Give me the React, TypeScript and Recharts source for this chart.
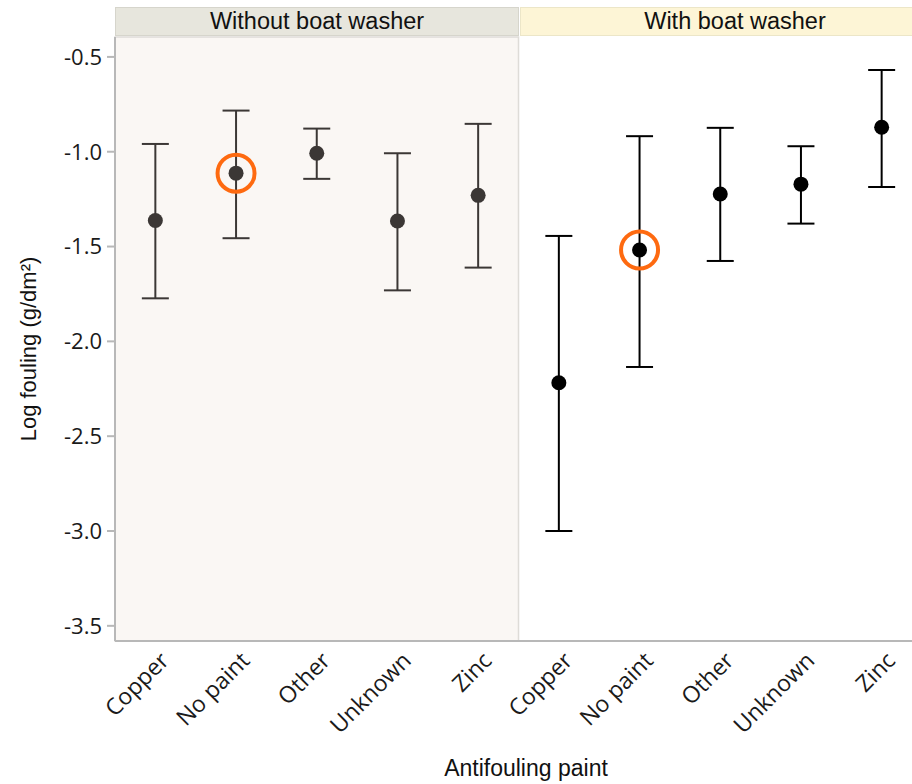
import React from "react"
import { ComposedChart, Scatter, ErrorBar, XAxis, YAxis, ReferenceArea } from "recharts"

// categories and panels
const paints = ["Copper", "No paint", "Other", "Unknown", "Zinc"]
const panels = ["Without boat washer", "With boat washer"]
const highlighted = "No paint"

// log fouling: mean and interval bounds
const withoutMean = [-1.363, -1.113, -1.008, -1.365, -1.23]
const withoutUpper = [-0.959, -0.783, -0.878, -1.008, -0.853]
const withoutLower = [-1.773, -1.456, -1.143, -1.731, -1.611]

const withMean = [-2.218, -1.518, -1.223, -1.171, -0.871]
const withUpper = [-1.444, -0.918, -0.874, -0.971, -0.569]
const withLower = [-3.0, -2.135, -1.576, -1.379, -1.186]

const yTicks = [-0.5, -1.0, -1.5, -2.0, -2.5, -3.0, -3.5]

const makeRows = (panel: string, mean: number[], upper: number[], lower: number[]) =>
  paints.map((paint, i) => ({
    key: `${panel}|${paint}`,
    paint,
    mean: mean[i],
    err: [mean[i] - lower[i], upper[i] - mean[i]],
  }))

const withoutRows = makeRows(panels[0], withoutMean, withoutUpper, withoutLower)
const withRows = makeRows(panels[1], withMean, withUpper, withLower)
const axisRows = [...withoutRows, ...withRows].map((r) => ({ key: r.key }))

const tickFont = "'Open Sans', 'Noto Sans', sans-serif"
const titleFont = "'Liberation Sans', Arial, sans-serif"

const XTick = (props: any) => {
  const { x, y, payload } = props
  const label = String(payload.value).split("|")[1]
  const tx = x + 15
  const ty = y + 21
  return (
    <text
      x={tx}
      y={ty}
      transform={`rotate(-45 ${tx} ${ty})`}
      textAnchor="end"
      fontSize={23}
      fontFamily={tickFont}
      fill="#1a1a1a"
    >
      {label}
    </text>
  )
}

const makeDot = (color: string) => (props: any) => {
  const { cx, cy, payload } = props
  return (
    <g>
      <circle cx={cx} cy={cy} r={7.5} fill={color} />
      {payload.paint === highlighted && (
        <circle cx={cx} cy={cy} r={18.5} fill="none" stroke="#fe6a10" strokeWidth={4} />
      )}
    </g>
  )
}

const header = (left: number, width: number, bg: string, border: string, text: string) => (
  <div
    style={{
      position: "absolute",
      left,
      top: 7,
      width,
      height: 29,
      background: bg,
      border: `1px solid ${border}`,
      boxSizing: "border-box",
      display: "flex",
      alignItems: "center",
      justifyContent: "center",
      fontFamily: titleFont,
      fontSize: 23.5,
      color: "#111",
    }}
  >
    {text}
  </div>
)

export default function App() {
  return (
    <div style={{ position: "absolute", left: 0, top: 0, width: 912, height: 784, overflow: "hidden", background: "#fff" }}>
      <ComposedChart
        width={930}
        height={784}
        data={axisRows}
        margin={{ top: 37, right: 8, bottom: 0, left: 0 }}
      >
        <ReferenceArea
          x1={withoutRows[0].key}
          x2={withoutRows[withoutRows.length - 1].key}
          fill="#faf7f4"
          fillOpacity={1}
          stroke="#dedcd8"
          strokeWidth={1.5}
        />
        <XAxis
          dataKey="key"
          type="category"
          scale="band"
          allowDuplicatedCategory={false}
          interval={0}
          height={143}
          tickSize={0}
          tickMargin={0}
          tickLine={false}
          axisLine={{ stroke: "#b8b8b8", strokeWidth: 2 }}
          tick={<XTick />}
          label={{
            content: () => (
              <text x={526} y={776} textAnchor="middle" fontSize={23} fontFamily={titleFont} fill="#111">
                Antifouling paint
              </text>
            ),
          }}
        />
        <YAxis
          type="number"
          domain={[-3.58, -0.395]}
          ticks={yTicks}
          width={115}
          tickSize={8}
          tickMargin={5}
          tickFormatter={(v: number) => v.toFixed(1)}
          tick={{ fontSize: 22, fontFamily: tickFont, fill: "#1a1a1a" }}
          tickLine={{ stroke: "#b8b8b8", strokeWidth: 2 }}
          axisLine={{ stroke: "#b8b8b8", strokeWidth: 2 }}
          label={{
            content: () => (
              <text
                x={36}
                y={349}
                transform="rotate(-90 36 349)"
                textAnchor="middle"
                fontSize={22}
                fontFamily={titleFont}
                fill="#111"
              >
                Log fouling (g/dm²)
              </text>
            ),
          }}
        />
        <Scatter data={withoutRows} dataKey="mean" shape={makeDot("#3b3735")} isAnimationActive={false}>
          <ErrorBar dataKey="err" direction="y" width={13.5} stroke="#3b3735" strokeWidth={2} />
        </Scatter>
        <Scatter data={withRows} dataKey="mean" shape={makeDot("#000000")} isAnimationActive={false}>
          <ErrorBar dataKey="err" direction="y" width={13.5} stroke="#000000" strokeWidth={2} />
        </Scatter>
      </ComposedChart>
      {header(115, 404, "#e7e6dd", "#d6d5cc", panels[0])}
      {header(520, 430, "#fdf5d6", "#ece6c8", panels[1])}
    </div>
  )
}
